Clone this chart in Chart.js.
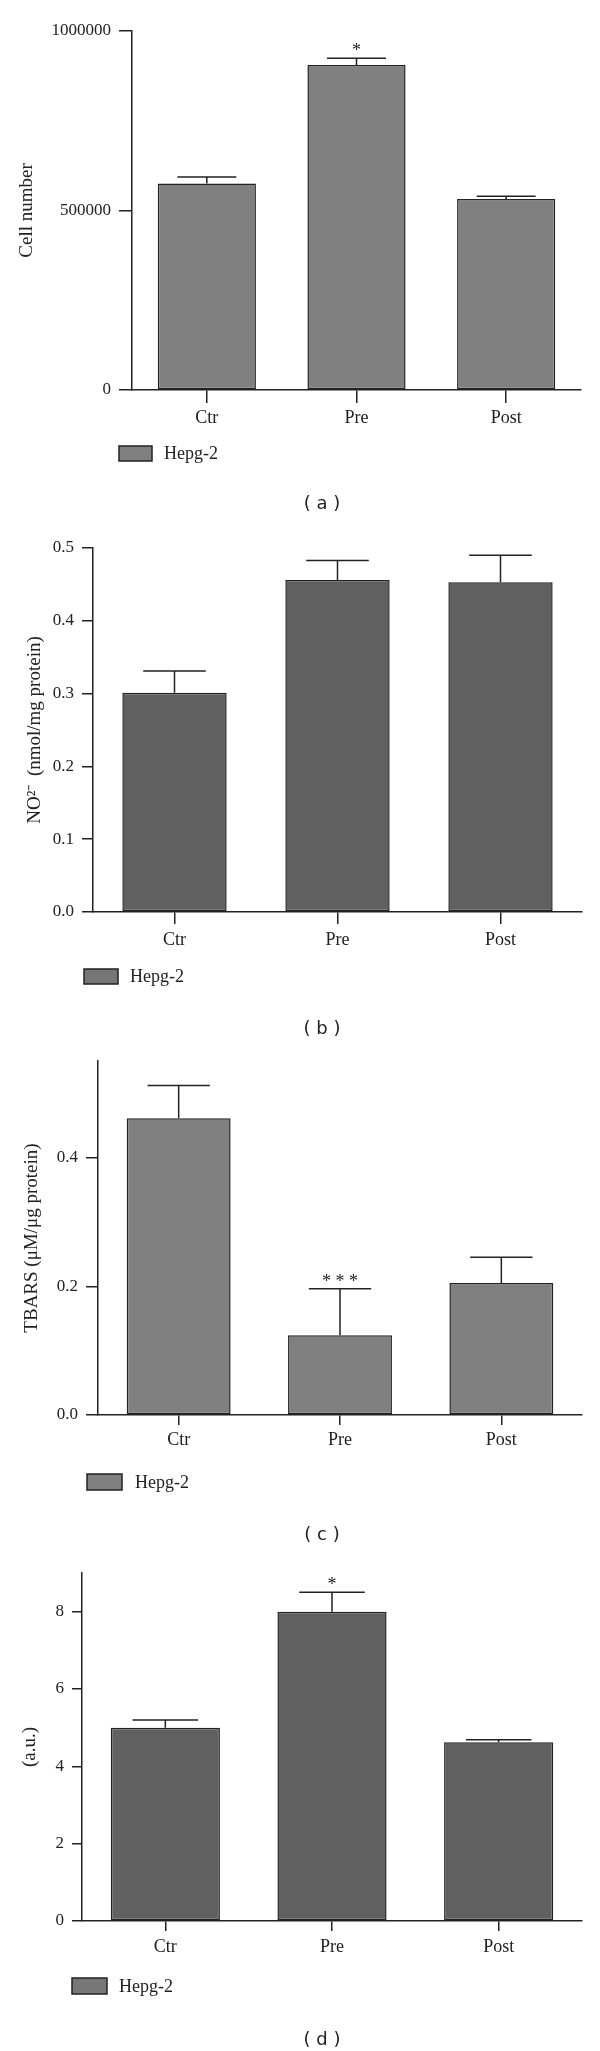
<!DOCTYPE html>
<html>
<head>
<meta charset="utf-8">
<script src="https://cdn.jsdelivr.net/npm/chart.js@4.4.1/dist/chart.umd.min.js"></script>
<style>
  body { margin: 0; background: #fff; }
  #page { position: relative; width: 600px; height: 2051px; overflow: hidden; }
  canvas { position: absolute; left: 0; }
  .cap { position: absolute; width: 80px; margin-left: -40px; text-align: center;
         font: 18px "DejaVu Sans", sans-serif; color: #222; line-height: 20px; }
</style>
</head>
<body>
<div id="page">
  <canvas id="chartA" width="600" height="520" style="top:0px"></canvas>
  <canvas id="chartB" width="600" height="520" style="top:520px"></canvas>
  <canvas id="chartC" width="600" height="505" style="top:1040px"></canvas>
  <canvas id="chartD" width="600" height="506" style="top:1545px"></canvas>
  <div class="cap" style="left:322px; top:493px">( a )</div>
  <div class="cap" style="left:322px; top:1018px">( b )</div>
  <div class="cap" style="left:322px; top:1524px">( c )</div>
  <div class="cap" style="left:322px; top:2029px">( d )</div>
</div>
<script>
const categories = ['Ctr', 'Pre', 'Post'];
const seriesName = 'Hepg-2';

// (a) cell number
const cellNumber = [575000, 905000, 532000];
const cellNumberErr = [18000, 19000, 8000];
const cellNumberStars = ['', '*', ''];

// (b) NO2-
const nitrite = [0.301, 0.456, 0.453];
const nitriteErr = [0.030, 0.027, 0.037];
const nitriteStars = ['', '', ''];

// (c) TBARS
const tbars = [0.461, 0.124, 0.205];
const tbarsErr = [0.051, 0.072, 0.040];
const tbarsStars = ['', '* * *', ''];

// (d) a.u.
const arbitrary = [5.0, 8.0, 4.62];
const arbitraryErr = [0.2, 0.5, 0.07];
const arbitraryStars = ['', '*', ''];

const ink = '#222';
const serif = 'Liberation Serif';

// error bars + significance marks, placed with the y scale
const errorBars = {
    id: 'errorBars',
    afterDatasetsDraw(chart, args, opts) {
        const ctx = chart.ctx;
        const y = chart.scales.y;
        const values = chart.data.datasets[0].data;
        ctx.save();
        ctx.strokeStyle = ink;
        ctx.fillStyle = ink;
        ctx.lineWidth = 1.5;
        ctx.font = '18px "' + serif + '"';
        ctx.textAlign = 'center';
        ctx.textBaseline = 'alphabetic';
        chart.getDatasetMeta(0).data.forEach((bar, i) => {
            const top = y.getPixelForValue(values[i] + opts.errors[i]);
            const half = bar.width * 0.3;
            ctx.beginPath();
            ctx.moveTo(bar.x, bar.y);
            ctx.lineTo(bar.x, top);
            ctx.moveTo(bar.x - half, top);
            ctx.lineTo(bar.x + half, top);
            ctx.stroke();
            if (opts.stars[i]) {
                ctx.fillText(opts.stars[i], bar.x, top - 2);
            }
        });
        ctx.restore();
    }
};

// legend box under the axis
const boxLegend = {
    id: 'boxLegend',
    afterDraw(chart, args, o) {
        const ctx = chart.ctx;
        ctx.save();
        ctx.fillStyle = o.color;
        ctx.fillRect(o.x, o.y, o.w, o.h);
        ctx.strokeStyle = ink;
        ctx.lineWidth = 1.5;
        ctx.strokeRect(o.x, o.y, o.w, o.h);
        ctx.fillStyle = ink;
        ctx.font = '18px "' + serif + '"';
        ctx.textBaseline = 'middle';
        ctx.fillText(chart.data.datasets[0].label, o.textX, o.y + o.h / 2 + 1);
        ctx.restore();
    }
};

function makeChart(id, c) {
    return new Chart(document.getElementById(id), {
        type: 'bar',
        data: {
            labels: categories,
            datasets: [{
                label: seriesName,
                data: c.values,
                backgroundColor: c.fill,
                borderColor: ink,
                borderWidth: 1.5,
                borderSkipped: false,
                barPercentage: 1,
                categoryPercentage: c.catPct,
            }]
        },
        options: {
            responsive: false,
            animation: false,
            events: [],
            layout: { padding: c.pad },
            plugins: {
                legend: { display: false },
                tooltip: { enabled: false },
                errorBars: { errors: c.errors, stars: c.stars },
                boxLegend: c.legend,
            },
            scales: {
                x: {
                    grid: { display: true, drawOnChartArea: false, offset: false,
                            tickLength: c.xTick, color: ink, lineWidth: 1.5 },
                    border: { color: ink, width: 1.5 },
                    ticks: { color: ink, padding: c.xPad, font: { family: serif, size: 18 } },
                    afterFit: s => { s.height = 40; },
                },
                y: {
                    min: 0,
                    max: c.max,
                    grid: { display: true, drawOnChartArea: false,
                            tickLength: c.yTick, color: ink, lineWidth: 1.5 },
                    border: { color: ink, width: 1.5 },
                    ticks: { color: ink, padding: 8, stepSize: c.step,
                             font: { family: serif, size: 17 }, callback: c.fmt },
                    afterBuildTicks: s => { s.ticks = s.ticks.filter(t => t.value <= c.lastTick + 1e-9); },
                    afterFit: s => { s.width = c.yWidth; },
                    title: { display: true, text: c.title, color: ink,
                             font: { family: serif, size: 19 }, padding: { top: c.titlePad, bottom: 0 } },
                },
            }
        },
        plugins: [errorBars, boxLegend]
    });
}

makeChart('chartA', {
    values: cellNumber, errors: cellNumberErr, stars: cellNumberStars,
    fill: '#808080', catPct: 0.656,
    pad: { top: 31, right: 19, bottom: 90, left: 0 }, yWidth: 132,
    max: 1000000, step: 500000, lastTick: 1000000, fmt: v => String(v),
    title: 'Cell number', titlePad: 16, yTick: 13, xTick: 13, xPad: 4,
    legend: { x: 119, y: 446, w: 33, h: 15, textX: 164, color: '#808080' },
});

makeChart('chartB', {
    values: nitrite, errors: nitriteErr, stars: nitriteStars,
    fill: '#606060', catPct: 0.64,
    pad: { top: 28, right: 18, bottom: 88, left: 0 }, yWidth: 93,
    max: 0.5, step: 0.1, lastTick: 0.5, fmt: v => Number(v).toFixed(1),
    title: 'NO\u00B2\u207B\u2009 (nmol/mg protein)', titlePad: 24, yTick: 11, xTick: 12, xPad: 5,
    legend: { x: 84, y: 449, w: 34, h: 15, textX: 130, color: '#767676' },
});

makeChart('chartC', {
    values: tbars, errors: tbarsErr, stars: tbarsStars,
    fill: '#808080', catPct: 0.644,
    pad: { top: 21, right: 18, bottom: 90, left: 0 }, yWidth: 98,
    max: 0.55, step: 0.2, lastTick: 0.4, fmt: v => Number(v).toFixed(1),
    title: 'TBARS (\u03BCM/\u03BCg protein)', titlePad: 21, yTick: 12, xTick: 10, xPad: 4,
    legend: { x: 87, y: 434, w: 35, h: 16, textX: 135, color: '#808080' },
});

makeChart('chartD', {
    values: arbitrary, errors: arbitraryErr, stars: arbitraryStars,
    fill: '#606060', catPct: 0.655,
    pad: { top: 28, right: 18, bottom: 90, left: 0 }, yWidth: 82,
    max: 9, step: 2, lastTick: 8, fmt: v => String(v),
    title: '(a.u.)', titlePad: 19, yTick: 10, xTick: 10, xPad: 5,
    legend: { x: 72, y: 433, w: 35, h: 16, textX: 119, color: '#777777' },
});
</script>
</body>
</html>
